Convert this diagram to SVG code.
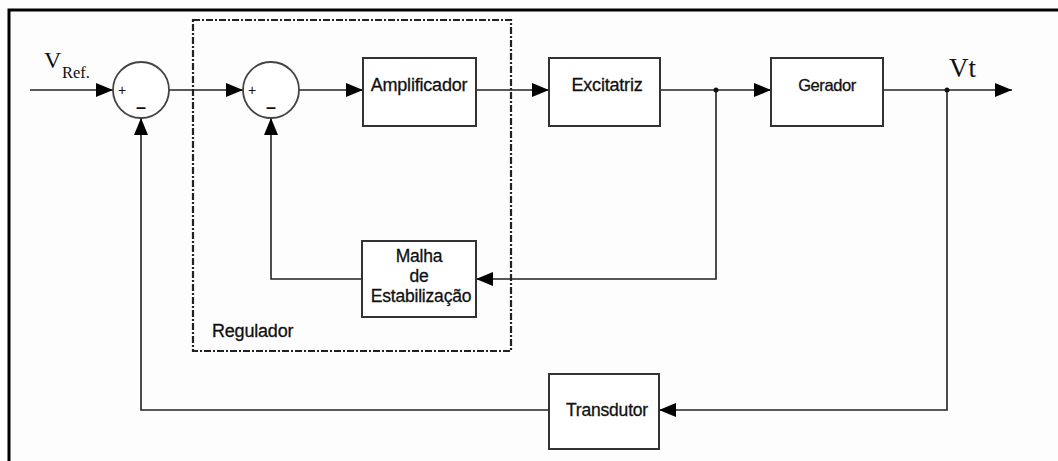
<svg xmlns="http://www.w3.org/2000/svg" width="1058" height="461" viewBox="0 0 1058 461">
<defs>
<marker id="arr" viewBox="0 0 17 14" refX="17" refY="7" markerWidth="17" markerHeight="14" markerUnits="userSpaceOnUse" orient="auto">
<path d="M0,0 L17,7 L0,14 Z" fill="#000"/>
</marker>
</defs>
<style>
.bg{fill:#fdfdfd}
.frame{stroke:#000;stroke-width:3;fill:none}
.blk{fill:#fff;stroke:#333;stroke-width:2}
.sum{fill:#fff;stroke:#444;stroke-width:1.8}
.ln{fill:none;stroke:#222;stroke-width:1.6}
.reg{fill:none;stroke:#222;stroke-width:2.2;stroke-dasharray:7 2 2 2}
.lbl{font-family:"Liberation Sans",Arial,sans-serif;font-size:18px;fill:#111;text-anchor:middle;letter-spacing:-0.2px;stroke:#111;stroke-width:0.3}
.sg{font-family:"Liberation Sans",Arial,sans-serif;fill:#111;text-anchor:middle}
.ser{font-family:"Liberation Serif","Times New Roman",serif;fill:#111}
</style>
<rect class="bg" x="0" y="0" width="1058" height="461"/>
<path class="frame" d="M1058,10 H9 V461"/>

<g id="regulador">
<rect class="reg" x="193" y="20" width="318" height="331"/>
<text class="lbl" x="212" y="337" style="text-anchor:start">Regulador</text>
</g>

<g id="connectors">
<line class="ln" x1="30" y1="90" x2="113" y2="90" marker-end="url(#arr)"/>
<line class="ln" x1="169" y1="90" x2="243" y2="90" marker-end="url(#arr)"/>
<line class="ln" x1="299" y1="90" x2="363" y2="90" marker-end="url(#arr)"/>
<line class="ln" x1="476" y1="90" x2="549" y2="90" marker-end="url(#arr)"/>
<line class="ln" x1="660" y1="90" x2="771" y2="90" marker-end="url(#arr)"/>
<line class="ln" x1="883" y1="90" x2="1012" y2="90" marker-end="url(#arr)"/>
<polyline class="ln" points="716,90 716,279 476,279" marker-end="url(#arr)"/>
<polyline class="ln" points="362,279 271,279 271,118" marker-end="url(#arr)"/>
<polyline class="ln" points="947,90 947,410 659,410" marker-end="url(#arr)"/>
<polyline class="ln" points="549,410 141,410 141,118" marker-end="url(#arr)"/>
<circle cx="716" cy="90" r="2.5" fill="#111"/>
<circle cx="947" cy="90" r="2.5" fill="#111"/>
</g>

<g id="vref">
<text class="ser" x="44" y="68" font-size="24">V</text>
<text class="ser" x="62" y="78" font-size="16.5">Ref.</text>
</g>

<g id="sum1">
<circle class="sum" cx="141" cy="90" r="28"/>
<text class="sg" x="122" y="95" font-size="14">+</text>
<text class="sg" x="141" y="113" font-size="18" font-weight="bold">–</text>
</g>

<g id="sum2">
<circle class="sum" cx="271" cy="90" r="28"/>
<text class="sg" x="252" y="95" font-size="14">+</text>
<text class="sg" x="271" y="113" font-size="18" font-weight="bold">–</text>
</g>

<g id="amplificador">
<rect class="blk" x="363" y="58" width="113" height="68"/>
<text class="lbl" x="419" y="91">Amplificador</text>
</g>

<g id="excitatriz">
<rect class="blk" x="549" y="58" width="111" height="68"/>
<text class="lbl" x="607" y="91">Excitatriz</text>
</g>

<g id="gerador">
<rect class="blk" x="771" y="58" width="112" height="68"/>
<text class="lbl" x="827" y="91" style="font-size:16.5px;letter-spacing:-0.4px">Gerador</text>
</g>

<g id="vt">
<text class="ser" x="949" y="77" font-size="27">Vt</text>
</g>

<g id="malha">
<rect class="blk" x="362" y="241" width="114" height="76"/>
<text class="lbl" x="419" y="262" style="font-size:17.5px">Malha</text>
<text class="lbl" x="419" y="282" style="font-size:17.5px">de</text>
<text class="lbl" x="421" y="302" style="font-size:17.5px">Estabilização</text>
</g>

<g id="transdutor">
<rect class="blk" x="549" y="374" width="110" height="75"/>
<text class="lbl" x="607" y="416" style="font-size:17.5px">Transdutor</text>
</g>
</svg>
